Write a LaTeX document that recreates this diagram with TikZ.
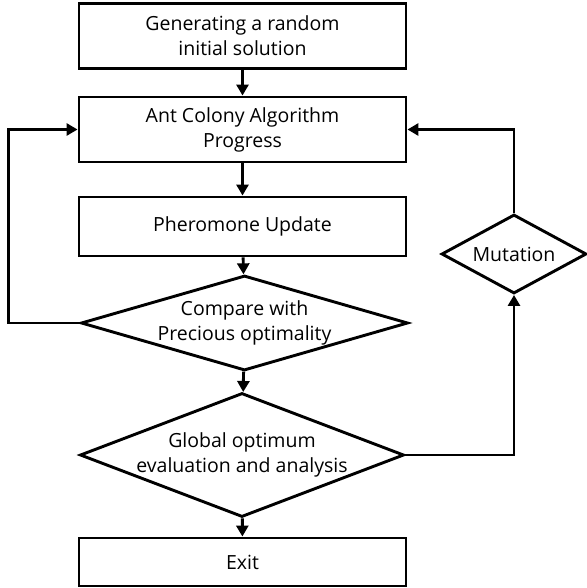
\documentclass[tikz,border=0pt]{standalone}
\usepackage{fontspec}
\setmainfont{Open Sans}
\usetikzlibrary{positioning, shapes.geometric, arrows.meta}

\begin{document}
\begin{tikzpicture}[x=1pt, y=-1pt, font=\fontsize{19.5}{25}\selectfont,
   stepbox/.style={draw, line width=2.9pt, minimum width=327pt, align=center, inner sep=0pt},
   test/.style={draw, diamond, line width=2.9pt, inner sep=0pt},
   flow/.style={-{Triangle[length=11pt, width=12pt]}, line width=2.9pt}]
  \useasboundingbox (0,0) rectangle (586,588);
  % main column
  \node[stepbox, minimum height=65pt] (init) at (242.5,35.7) {Generating a random\\initial solution};
  \node[stepbox, minimum height=65pt] (aco) at (242.5,129.5) {Ant Colony Algorithm\\Progress};
  \node[stepbox, minimum height=59pt] (pher) at (242.5,226.5) {Pheromone Update};
  \node[test, minimum width=327pt, minimum height=95pt,
        label={[align=center]center:{Compare with\\Precious optimality}}] (cmp) at (244.5,323) {};
  \node[test, minimum width=324pt, minimum height=124pt,
        label={[align=center]center:{Global optimum\\evaluation and analysis}}] (glob) at (242,455) {};
  \node[stepbox, minimum height=48pt] (exit) at (242.5,562) {Exit};
  % side branch
  \node[test, minimum width=145pt, minimum height=79pt,
        label={center:Mutation}] (mut) at (514,254) {};
  % connectors
  \draw[flow] (init) -- (aco);
  \draw[flow] (aco) -- (pher);
  \draw[flow] (pher) -- (cmp);
  \draw[flow] (cmp) -- (glob);
  \draw[flow] (glob) -- (exit);
  \draw[flow] (cmp.west) -- ++(-71,0) |- (aco.west);
  \draw[flow] (glob.east) -| (mut.south);
  \draw[flow] (mut.north) |- (aco.east);
\end{tikzpicture}
\end{document}
